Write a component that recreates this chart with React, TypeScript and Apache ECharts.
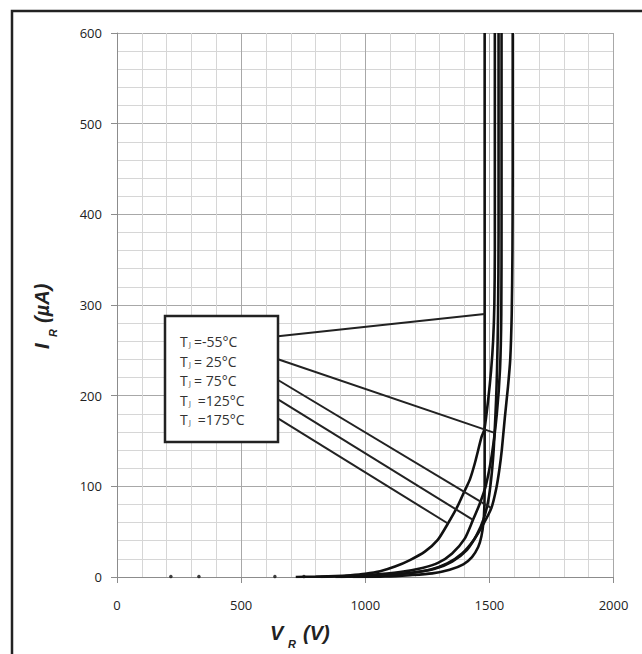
import React, { useEffect, useRef } from "react";
import * as echarts from "echarts";

// ---- data ----
const temperatures = ["-55°C", "25°C", "75°C", "125°C", "175°C"];
const legendRest = ["=-55°C", "= 25°C", "= 75°C", " =125°C", " =175°C"];

const vNeg55 = [950, 1080, 1180, 1270, 1340, 1395, 1430, 1455, 1468, 1476, 1480, 1481, 1481];
const iNeg55 = [0, 0.5, 2, 4, 8, 14, 22, 33, 45, 60, 80, 110, 600];

const v25 = [900, 1000, 1100, 1200, 1280, 1350, 1410, 1450, 1478, 1496, 1508, 1516, 1521, 1527, 1531, 1535, 1537, 1537];
const i25 = [0, 1, 2.5, 5, 9, 17, 30, 47, 65, 85, 110, 135, 159, 195, 230, 290, 380, 600];

const v75 = [880, 980, 1080, 1180, 1260, 1330, 1390, 1440, 1475, 1508, 1528, 1540, 1550, 1562, 1575, 1584, 1590, 1593, 1594, 1594];
const i75 = [0, 0.8, 2, 4.5, 8, 15, 26, 42, 58, 76, 98, 118, 140, 175, 210, 240, 290, 360, 450, 600];

const v125 = [820, 920, 1007, 1140, 1230, 1293, 1350, 1400, 1434, 1460, 1485, 1510, 1530, 1543, 1548, 1549, 1549];
const i125 = [0, 1, 2.2, 5.5, 10, 15.5, 26, 42, 63, 80, 100, 135, 180, 230, 290, 400, 600];

const v175 = [720, 800, 880, 940, 1000, 1060, 1120, 1180, 1240, 1292, 1333, 1370, 1402, 1422, 1442, 1469, 1480, 1495, 1507, 1515, 1520, 1522, 1522];
const i175 = [0, 0.4, 1, 2, 3.6, 6.4, 11.5, 18.7, 28, 41, 59, 77, 96, 108, 126, 155, 163, 195, 228, 260, 300, 360, 600];

// points where the legend leader lines touch the curves (V, µA)
const leaderEndV = [1481, 1521, 1508, 1434, 1333];
const leaderEndI = [290, 159, 76, 63, 59];

// small marks along the zero line
const zeroDotsV = [217, 330, 636, 753];

const xMin = 0, xMax = 2000, xStep = 500;
const yMin = 0, yMax = 600, yStep = 100;

const zip = (v: number[], i: number[]) => v.map((x, k) => [x, i[k]]);

export default function App() {
  const ref = useRef<HTMLDivElement>(null);
  useEffect(() => {
    document.body.style.margin = "0";
    const chart = echarts.init(ref.current!, null, { renderer: "svg" });
    const curveSets = [
      zip(vNeg55, iNeg55),
      zip(v25, i25),
      zip(v75, i75),
      zip(v125, i125),
      zip(v175, i175),
    ];
    const labelFont = "Open Sans";
    const axisCommon = {
      axisLine: { show: true, onZero: false, lineStyle: { color: "#8c8c8c", width: 1 } },
      axisTick: { show: true, length: 6, lineStyle: { color: "#8c8c8c" } },
      splitLine: { show: true, lineStyle: { color: "#a8a8a8", width: 1 } },
      minorTick: { show: false, splitNumber: 5 },
      minorSplitLine: { show: true, lineStyle: { color: "#d6d6d6", width: 1 } },
    };
    const option: any = {
      animation: false,
      backgroundColor: "#ffffff",
      grid: { left: 117, top: 33, right: 28.5, bottom: 77 },
      xAxis: {
        type: "value", min: xMin, max: xMax, interval: xStep,
        ...axisCommon,
        axisLabel: { margin: 21, color: "#222", fontSize: 13, fontFamily: labelFont, formatter: (v: number) => String(v) },
      },
      yAxis: {
        type: "value", min: yMin, max: yMax, interval: yStep,
        ...axisCommon,
        axisLabel: { margin: 15, color: "#222", fontSize: 13, fontFamily: labelFont, formatter: (v: number) => String(v) },
      },
      series: [
        ...curveSets.map((d, k) => ({
          name: "TJ=" + temperatures[k],
          type: "line",
          data: d,
          showSymbol: false,
          smooth: 0.25,
          lineStyle: { color: "#111", width: 2.6 },
          z: 3,
        })),
        {
          type: "scatter",
          data: zeroDotsV.map((v) => [v, 0.6]),
          symbolSize: 3.5,
          itemStyle: { color: "#111" },
          clip: false,
          z: 3,
        },
      ],
    };
    chart.setOption(option);

    // leader lines and annotations
    const boxX = 165, boxY = 316, boxW = 113, boxH = 126;
    const rowY = [341.7, 361, 380.5, 400, 419.5];
    const leaderStartY = [336.3, 359.3, 380, 399.3, 418.3];
    const graphics: any[] = [];
    graphics.push({
      type: "rect", z: 5, silent: true,
      shape: { x: 12, y: 11, width: 700, height: 700 },
      style: { fill: "none", stroke: "#222", lineWidth: 2.5 },
    });
    leaderEndV.forEach((v, k) => {
      const p = chart.convertToPixel({ gridIndex: 0 }, [v, leaderEndI[k]]) as number[];
      graphics.push({
        type: "line", z: 8, silent: true,
        shape: { x1: boxX + boxW, y1: leaderStartY[k], x2: p[0], y2: p[1] },
        style: { stroke: "#222", lineWidth: 2 },
      });
    });
    graphics.push({
      type: "rect", z: 9, silent: true,
      shape: { x: boxX, y: boxY, width: boxW, height: boxH },
      style: { fill: "#fff", stroke: "#222", lineWidth: 2.5 },
    });
    legendRest.forEach((t, k) => {
      const y = rowY[k];
      graphics.push({
        type: "text", z: 10, silent: true,
        style: { text: "T", x: 180, y, fill: "#333", font: `14px "${labelFont}"`, align: "left", verticalAlign: "middle", textAlign: "left", textVerticalAlign: "middle" },
      });
      graphics.push({
        type: "text", z: 10, silent: true,
        style: { text: "J", x: 189, y: y + 6.5, fill: "#333", font: `7px "${labelFont}"`, align: "left", verticalAlign: "bottom", textAlign: "left", textVerticalAlign: "bottom" },
      });
      graphics.push({
        type: "text", z: 10, silent: true,
        style: { text: t, x: 194, y, fill: "#333", font: `14px "${labelFont}"`, align: "left", verticalAlign: "middle", textAlign: "left", textVerticalAlign: "middle" },
      });
    });
    const titleFont = `italic bold 20px "Liberation Sans"`;
    const subFont = `italic bold 11px "Liberation Sans"`;
    // x title
    graphics.push({
      type: "group", z: 10, x: 270, y: 633,
      children: [
        { type: "text", silent: true, style: { text: "V", x: 0, y: 0, fill: "#222", font: titleFont, align: "left", verticalAlign: "middle", textAlign: "left", textVerticalAlign: "middle" } },
        { type: "text", silent: true, style: { text: "R", x: 18, y: 11, fill: "#222", font: subFont, align: "left", verticalAlign: "middle", textAlign: "left", textVerticalAlign: "middle" } },
        { type: "text", silent: true, style: { text: "(V)", x: 33, y: 0, fill: "#222", font: titleFont, align: "left", verticalAlign: "middle", textAlign: "left", textVerticalAlign: "middle" } },
      ],
    });
    // y title (rotated)
    graphics.push({
      type: "group", z: 10, x: 42, y: 349, rotation: Math.PI / 2,
      children: [
        { type: "text", silent: true, style: { text: "I", x: 0, y: 0, fill: "#222", font: titleFont, align: "left", verticalAlign: "middle", textAlign: "left", textVerticalAlign: "middle" } },
        { type: "text", silent: true, style: { text: "R", x: 12, y: 11, fill: "#222", font: subFont, align: "left", verticalAlign: "middle", textAlign: "left", textVerticalAlign: "middle" } },
        { type: "text", silent: true, style: { text: "(µA)", x: 26, y: 0, fill: "#222", font: titleFont, align: "left", verticalAlign: "middle", textAlign: "left", textVerticalAlign: "middle" } },
      ],
    });
    chart.setOption({ graphic: { elements: graphics } });

    return () => chart.dispose();
  }, []);
  return <div ref={ref} style={{ width: 642, height: 654 }} />;
}
